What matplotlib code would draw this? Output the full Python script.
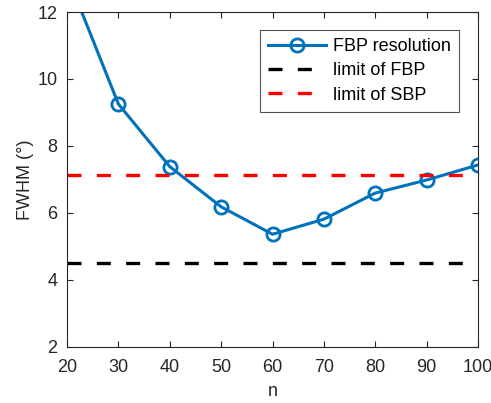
import matplotlib.pyplot as plt
import numpy as np

plt.rcParams['font.family'] = ['Liberation Sans', 'DejaVu Sans']

# FWHM of the FBP reconstruction vs number of projections
n = [20, 30, 40, 50, 60, 70, 80, 90, 100]
fwhm_fbp = [13.1, 9.25, 7.38, 6.18, 5.36, 5.81, 6.59, 6.98, 7.43]
limit_fbp = 4.49
limit_sbp = 7.13

blue = (0, 0.447, 0.741)
axcol = (0.15, 0.15, 0.15)
fs = 13

fig = plt.figure(figsize=(4.91, 4.03), dpi=100)
ax = fig.add_axes([0.1365, 0.1397, 0.837, 0.8305])

ax.plot(n, fwhm_fbp, '-o', color=blue, lw=2.2, ms=9.5, mfc='none', mew=2.0,
        label='FBP resolution')
ax.plot([20, 100], [limit_fbp, limit_fbp], color='k', lw=2.4,
        linestyle=(0, (4.2, 4.6)), label='limit of FBP')
ax.plot([20, 100], [limit_sbp, limit_sbp], color='red', lw=2.4,
        linestyle=(0, (4.2, 4.6)), label='limit of SBP')

ax.set_xlim(20, 100)
ax.set_ylim(2, 12)
ax.set_xticks(np.arange(20, 101, 10))
ax.set_yticks(np.arange(2, 13, 2))
ax.tick_params(direction='in', top=True, right=True, length=4, width=0.8,
               colors=axcol, labelsize=fs)
ax.tick_params(axis='x', pad=9)
ax.tick_params(axis='y', pad=7)
for sp in ax.spines.values():
    sp.set_color(axcol)
    sp.set_linewidth(0.8)

ax.set_xlabel('n', fontsize=fs, color=axcol, labelpad=5)
ax.set_ylabel('FWHM (°)', fontsize=fs, color=axcol, labelpad=2)

leg = ax.legend(loc='upper right', bbox_to_anchor=(0.954, 0.946), fontsize=fs,
                frameon=True, fancybox=False, handlelength=3.2,
                borderpad=0.45, labelspacing=0.4, handletextpad=0.4,
                borderaxespad=0)
leg.get_frame().set_edgecolor(axcol)
leg.get_frame().set_linewidth(0.8)

fig.savefig('out.png', dpi=100)
